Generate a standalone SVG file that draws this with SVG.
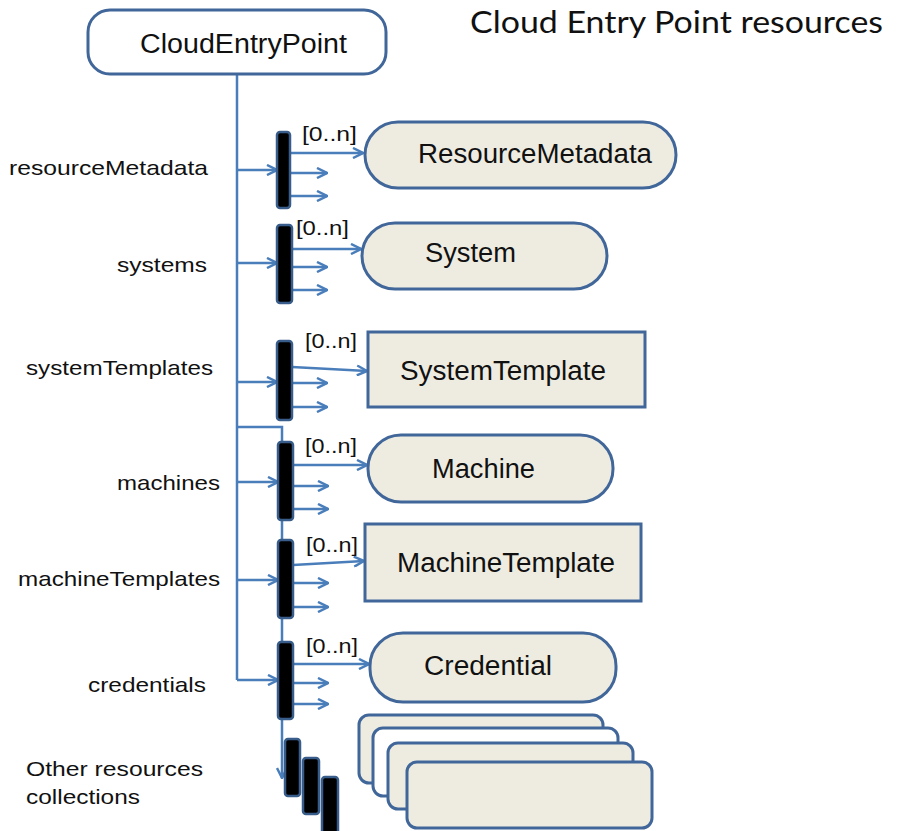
<svg xmlns="http://www.w3.org/2000/svg" width="897" height="831" viewBox="0 0 897 831">
<defs>
<style>
.ln{fill:none;stroke:#4a7ebb;stroke-width:2.5}
.arr{fill:none;stroke:#4a7ebb;stroke-width:2.5;marker-end:url(#ah)}
.bar{fill:#000;stroke:#385d8a;stroke-width:2.5}
.node{fill:#eeece1;stroke:#41679a;stroke-width:3}
.nt{font-family:"Liberation Sans",Arial,sans-serif;font-size:27px;fill:#111}
.lb{font-family:"Liberation Sans",Arial,sans-serif;font-size:21px;fill:#111}
.card{font-family:"Liberation Sans",Arial,sans-serif;font-size:20px;fill:#111}
</style>
<marker id="ah" viewBox="0 0 12 12" refX="11" refY="6" markerWidth="12" markerHeight="12" markerUnits="userSpaceOnUse" orient="auto">
<path d="M1,1 L11,6 L1,11" fill="none" stroke="#4a7ebb" stroke-width="2.5"/>
</marker>
</defs>
<rect width="897" height="831" fill="#fff"/>
<text x="470" y="33" font-family="Lato,'Open Sans',sans-serif" font-size="31" fill="#111" textLength="413" lengthAdjust="spacingAndGlyphs">Cloud Entry Point resources</text>

<g id="labels">
<text class="lb" x="9" y="175" textLength="199" lengthAdjust="spacingAndGlyphs">resourceMetadata</text>
<text class="lb" x="117" y="272" textLength="90" lengthAdjust="spacingAndGlyphs">systems</text>
<text class="lb" x="26" y="375" textLength="187" lengthAdjust="spacingAndGlyphs">systemTemplates</text>
<text class="lb" x="117" y="490" textLength="103" lengthAdjust="spacingAndGlyphs">machines</text>
<text class="lb" x="18" y="586" textLength="202" lengthAdjust="spacingAndGlyphs">machineTemplates</text>
<text class="lb" x="88" y="692" textLength="118" lengthAdjust="spacingAndGlyphs">credentials</text>
<text class="lb" x="26" y="776" textLength="177" lengthAdjust="spacingAndGlyphs">Other resources</text>
<text class="lb" x="26" y="804" textLength="114" lengthAdjust="spacingAndGlyphs">collections</text>
</g>

<g id="connectors">
<path class="ln" d="M237,74 V680"/>
<path class="ln" d="M237,427 H282 V442"/>
<path class="arr" d="M282,520 V778"/>
<path class="arr" d="M237,170 H277"/>
<path class="arr" d="M237,263 H277"/>
<path class="arr" d="M237,382 H277"/>
<path class="arr" d="M237,482 H278"/>
<path class="arr" d="M237,580 H278"/>
<path class="arr" d="M237,680 H278"/>

<path class="arr" d="M290,153 H363"/>
<path class="arr" d="M290,173 H327"/>
<path class="arr" d="M290,196 H327"/>

<path class="arr" d="M292,249 H361"/>
<path class="arr" d="M292,267 H327"/>
<path class="arr" d="M292,290 H327"/>

<path class="arr" d="M292,367 L367,371"/>
<path class="arr" d="M292,383 H327"/>
<path class="arr" d="M292,407 H327"/>

<path class="arr" d="M293,465 H367"/>
<path class="arr" d="M293,486 H328"/>
<path class="arr" d="M293,509 H328"/>

<path class="arr" d="M293,565 L364,561"/>
<path class="arr" d="M293,583 H328"/>
<path class="arr" d="M293,607 H328"/>

<path class="arr" d="M293,664 H369"/>
<path class="arr" d="M293,683 H328"/>
<path class="arr" d="M293,704 H328"/>
</g>

<g id="bars">
<rect class="bar" x="277" y="132" width="13" height="76" rx="3"/>
<rect class="bar" x="277" y="225" width="15" height="78" rx="3"/>
<rect class="bar" x="277" y="341" width="15" height="79" rx="3"/>
<rect class="bar" x="278" y="442" width="15" height="78" rx="3"/>
<rect class="bar" x="278" y="540" width="15" height="78" rx="3"/>
<rect class="bar" x="278" y="642" width="15" height="77" rx="3"/>
<rect class="bar" x="285" y="739" width="15" height="57" rx="3"/>
<rect class="bar" x="303" y="758" width="16" height="56" rx="3"/>
<rect class="bar" x="322" y="777" width="16" height="60" rx="3"/>
</g>

<g id="cloudentrypoint">
<rect x="88" y="10" width="298" height="64" rx="22" fill="#fff" stroke="#41679a" stroke-width="3"/>
<text class="nt" x="140" y="53" textLength="207" lengthAdjust="spacingAndGlyphs">CloudEntryPoint</text>
</g>
<g id="resourcemetadata">
<rect class="node" x="365" y="122" width="311" height="66" rx="33"/>
<text class="nt" x="418" y="163" textLength="234" lengthAdjust="spacingAndGlyphs">ResourceMetadata</text>
</g>
<g id="system">
<rect class="node" x="362" y="223" width="245" height="66" rx="33"/>
<text class="nt" x="425" y="262" textLength="91" lengthAdjust="spacingAndGlyphs">System</text>
</g>
<g id="systemtemplate">
<rect class="node" x="368" y="332" width="277" height="75"/>
<text class="nt" x="400" y="380" textLength="206" lengthAdjust="spacingAndGlyphs">SystemTemplate</text>
</g>
<g id="machine">
<rect class="node" x="368" y="435" width="245" height="67" rx="33"/>
<text class="nt" x="432" y="478" textLength="103" lengthAdjust="spacingAndGlyphs">Machine</text>
</g>
<g id="machinetemplate">
<rect class="node" x="365" y="524" width="276" height="77"/>
<text class="nt" x="397" y="572" textLength="218" lengthAdjust="spacingAndGlyphs">MachineTemplate</text>
</g>
<g id="credential">
<rect class="node" x="370" y="633" width="246" height="69" rx="33"/>
<text class="nt" x="424" y="675" textLength="128" lengthAdjust="spacingAndGlyphs">Credential</text>
</g>
<g id="other-collections">
<rect class="node" x="359" y="715" width="244" height="68" rx="10"/>
<rect x="373" y="728" width="245" height="68" rx="10" fill="#fff" stroke="#41679a" stroke-width="3"/>
<rect class="node" x="388" y="743" width="245" height="66" rx="10"/>
<rect class="node" x="407" y="762" width="245" height="66" rx="10"/>
</g>

<g id="cardinalities">
<text class="card" x="302" y="141" textLength="55" lengthAdjust="spacingAndGlyphs">[0..n]</text>
<text class="card" x="296" y="235" textLength="53" lengthAdjust="spacingAndGlyphs">[0..n]</text>
<text class="card" x="305" y="348" textLength="52" lengthAdjust="spacingAndGlyphs">[0..n]</text>
<text class="card" x="305" y="453" textLength="52" lengthAdjust="spacingAndGlyphs">[0..n]</text>
<text class="card" x="306" y="552" textLength="52" lengthAdjust="spacingAndGlyphs">[0..n]</text>
<text class="card" x="306" y="653" textLength="52" lengthAdjust="spacingAndGlyphs">[0..n]</text>
</g>
</svg>
